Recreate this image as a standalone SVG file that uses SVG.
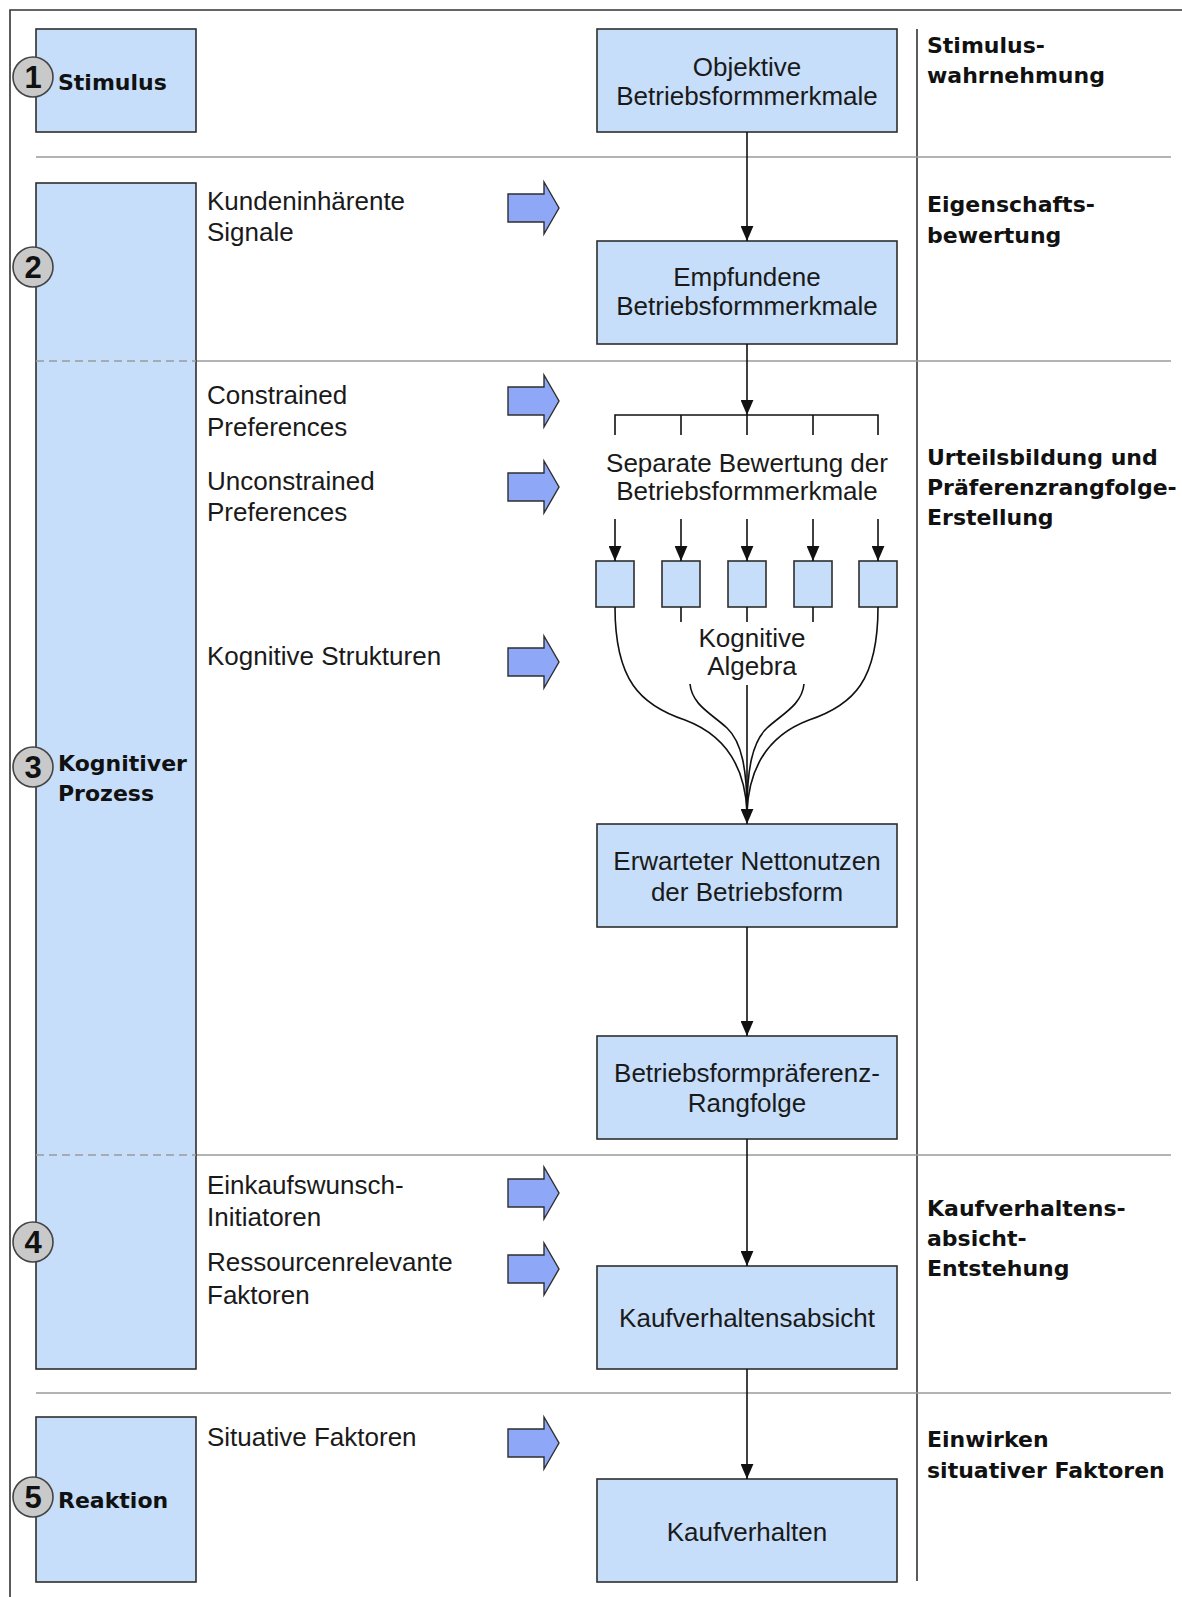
<svg xmlns="http://www.w3.org/2000/svg" width="1182" height="1597" viewBox="0 0 1182 1597">
<defs>
<style>
.frame{fill:none;stroke:#333;stroke-width:1.6}
.sep{stroke:#9a9a9a;stroke-width:1.6;fill:none}
.dash{stroke:#9a9a9a;stroke-width:1.6;stroke-dasharray:8 5;fill:none}
.box{fill:#c6def9;stroke:#2e2e2e;stroke-width:1.6}
.conn{stroke:#111;stroke-width:1.6;fill:none}
.blk{fill:#8ea8f7;stroke:#2e2e2e;stroke-width:1.4;stroke-linejoin:miter}
.num{fill:#c9c9c9;stroke:#444;stroke-width:1.6}
.t{font-family:"Liberation Sans",Arial,sans-serif;font-size:26px;fill:#1a1a1a}
.tc{font-family:"Liberation Sans",Arial,sans-serif;font-size:26px;fill:#1a1a1a;text-anchor:middle}
.b{font-family:"DejaVu Sans",Verdana,sans-serif;font-weight:bold;font-size:22px;fill:#111}
.n{font-family:"Liberation Sans",Arial,sans-serif;font-weight:bold;font-size:31px;fill:#111;text-anchor:middle}
</style>
<marker id="ah" viewBox="0 0 14 12" refX="14" refY="6" markerWidth="15" markerHeight="13" markerUnits="userSpaceOnUse" orient="auto">
<path d="M0,0 L14,6 L0,12 z" fill="#111"/>
</marker>
<path id="blkarrow" d="M0,-14 L36,-14 L36,-26 L51,0 L36,26 L36,14 L0,14 z"/>
</defs>
<rect width="1182" height="1597" fill="#fff"/>
<g id="frame">
<path class="frame" d="M1182,10 L10,10 L10,1597"/>
<line class="frame" x1="917" y1="29" x2="917" y2="1581"/>
<line class="sep" x1="36" y1="157" x2="1171" y2="157"/>
<line class="sep" x1="196" y1="361" x2="1171" y2="361"/>
<line class="sep" x1="196" y1="1155" x2="1171" y2="1155"/>
<line class="sep" x1="36" y1="1393" x2="1171" y2="1393"/>
</g>
<g id="phase1">
<rect class="box" x="36" y="29" width="160" height="103"/>
<circle class="num" cx="33" cy="77" r="20"/>
<text class="n" x="33" y="88">1</text>
<text class="b" x="58" y="90">Stimulus</text>
</g>
<g id="phase234">
<rect class="box" x="36" y="183" width="160" height="1186"/>
<line class="dash" x1="36" y1="361" x2="196" y2="361"/>
<line class="dash" x1="36" y1="1155" x2="196" y2="1155"/>
<circle class="num" cx="33" cy="267" r="20"/>
<text class="n" x="33" y="278">2</text>
<circle class="num" cx="33" cy="767" r="20"/>
<text class="n" x="33" y="778">3</text>
<text class="b" x="58" y="771">Kognitiver</text>
<text class="b" x="58" y="801">Prozess</text>
<circle class="num" cx="33" cy="1242" r="20"/>
<text class="n" x="33" y="1253">4</text>
</g>
<g id="phase5">
<rect class="box" x="36" y="1417" width="160" height="165"/>
<circle class="num" cx="33" cy="1497" r="20"/>
<text class="n" x="33" y="1508">5</text>
<text class="b" x="58" y="1508">Reaktion</text>
</g>
<g id="inputs">
<text class="t" x="207" y="210">Kundeninhärente</text>
<text class="t" x="207" y="241">Signale</text>
<use href="#blkarrow" class="blk" x="508" y="208"/>
<text class="t" x="207" y="404">Constrained</text>
<text class="t" x="207" y="436">Preferences</text>
<use href="#blkarrow" class="blk" x="508" y="401"/>
<text class="t" x="207" y="490">Unconstrained</text>
<text class="t" x="207" y="521">Preferences</text>
<use href="#blkarrow" class="blk" x="508" y="487"/>
<text class="t" x="207" y="665">Kognitive Strukturen</text>
<use href="#blkarrow" class="blk" x="508" y="662"/>
<text class="t" x="207" y="1194">Einkaufswunsch-</text>
<text class="t" x="207" y="1226">Initiatoren</text>
<use href="#blkarrow" class="blk" x="508" y="1193"/>
<text class="t" x="207" y="1271">Ressourcenrelevante</text>
<text class="t" x="207" y="1304">Faktoren</text>
<use href="#blkarrow" class="blk" x="508" y="1269"/>
<text class="t" x="207" y="1446">Situative Faktoren</text>
<use href="#blkarrow" class="blk" x="508" y="1443"/>
</g>
<g id="stages">
<text class="b" x="927" y="53">Stimulus-</text>
<text class="b" x="927" y="83">wahrnehmung</text>
<text class="b" x="927" y="212">Eigenschafts-</text>
<text class="b" x="927" y="243">bewertung</text>
<text class="b" x="927" y="465">Urteilsbildung und</text>
<text class="b" x="927" y="495">Präferenzrangfolge-</text>
<text class="b" x="927" y="525">Erstellung</text>
<text class="b" x="927" y="1216">Kaufverhaltens-</text>
<text class="b" x="927" y="1246">absicht-</text>
<text class="b" x="927" y="1276">Entstehung</text>
<text class="b" x="927" y="1447">Einwirken</text>
<text class="b" x="927" y="1478">situativer Faktoren</text>
</g>
<g id="node-objektive">
<rect class="box" x="597" y="29" width="300" height="103"/>
<text class="tc" x="747" y="76">Objektive</text>
<text class="tc" x="747" y="105">Betriebsformmerkmale</text>
</g>
<g id="node-empfundene">
<rect class="box" x="597" y="241" width="300" height="103"/>
<text class="tc" x="747" y="286">Empfundene</text>
<text class="tc" x="747" y="315">Betriebsformmerkmale</text>
</g>
<g id="node-separate">
<text class="tc" x="747" y="472">Separate Bewertung der</text>
<text class="tc" x="747" y="500">Betriebsformmerkmale</text>
</g>
<g id="node-small">
<rect class="box" x="596" y="561" width="38" height="46"/>
<rect class="box" x="662" y="561" width="38" height="46"/>
<rect class="box" x="728" y="561" width="38" height="46"/>
<rect class="box" x="794" y="561" width="38" height="46"/>
<rect class="box" x="859" y="561" width="38" height="46"/>
</g>
<g id="node-algebra">
<text class="tc" x="752" y="647">Kognitive</text>
<text class="tc" x="752" y="675">Algebra</text>
</g>
<g id="node-erwarteter">
<rect class="box" x="597" y="824" width="300" height="103"/>
<text class="tc" x="747" y="870">Erwarteter Nettonutzen</text>
<text class="tc" x="747" y="901">der Betriebsform</text>
</g>
<g id="node-rangfolge">
<rect class="box" x="597" y="1036" width="300" height="103"/>
<text class="tc" x="747" y="1082">Betriebsformpräferenz-</text>
<text class="tc" x="747" y="1112">Rangfolge</text>
</g>
<g id="node-absicht">
<rect class="box" x="597" y="1266" width="300" height="103"/>
<text class="tc" x="747" y="1327">Kaufverhaltensabsicht</text>
</g>
<g id="node-kaufverhalten">
<rect class="box" x="597" y="1479" width="300" height="103"/>
<text class="tc" x="747" y="1541">Kaufverhalten</text>
</g>
<g id="connectors">
<line class="conn" x1="747" y1="132" x2="747" y2="241" marker-end="url(#ah)"/>
<line class="conn" x1="747" y1="344" x2="747" y2="415" marker-end="url(#ah)"/>
<path class="conn" d="M615,435 L615,415 L878,415 L878,435 M681,415 L681,435 M747,415 L747,435 M813,415 L813,435"/>
<line class="conn" x1="615" y1="519" x2="615" y2="561" marker-end="url(#ah)"/>
<line class="conn" x1="681" y1="519" x2="681" y2="561" marker-end="url(#ah)"/>
<line class="conn" x1="747" y1="519" x2="747" y2="561" marker-end="url(#ah)"/>
<line class="conn" x1="813" y1="519" x2="813" y2="561" marker-end="url(#ah)"/>
<line class="conn" x1="878" y1="519" x2="878" y2="561" marker-end="url(#ah)"/>
<path class="conn" d="M681,607 L681,622 M747,607 L747,622 M813,607 L813,622"/>
<path class="conn" d="M615,607 C615,680 640,705 685,720 C725,735 745,765 747,812"/>
<path class="conn" d="M690,684 C692,705 712,714 727,728 C742,742 747,770 747,812"/>
<path class="conn" d="M878,607 C878,680 854,705 809,720 C769,735 749,765 747,812"/>
<path class="conn" d="M804,684 C802,705 782,714 767,728 C752,742 747,770 747,812"/>
<line class="conn" x1="747" y1="685" x2="747" y2="824" marker-end="url(#ah)"/>
<line class="conn" x1="747" y1="927" x2="747" y2="1036" marker-end="url(#ah)"/>
<line class="conn" x1="747" y1="1139" x2="747" y2="1266" marker-end="url(#ah)"/>
<line class="conn" x1="747" y1="1369" x2="747" y2="1479" marker-end="url(#ah)"/>
</g>
</svg>
